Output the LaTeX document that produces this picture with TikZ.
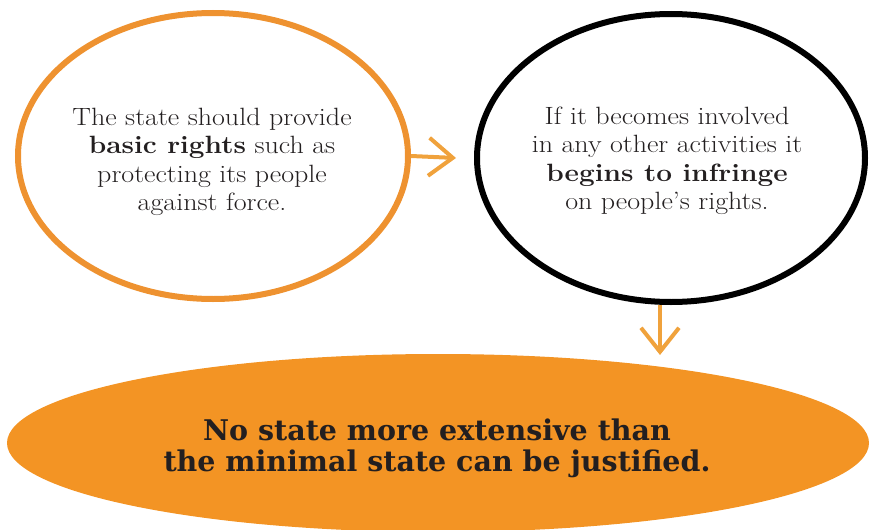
\documentclass[tikz,border=0pt]{standalone}
\usepackage{fontspec}
\setmainfont{Latin Modern Roman}[FakeStretch=1.12]
\usetikzlibrary{shapes.geometric,arrows.meta}
\newfontfamily\heavyslab{DejaVu Serif}
\definecolor{orangeline}{HTML}{EE9230}
\definecolor{orangefill}{HTML}{F39424}
\definecolor{arrowor}{HTML}{F0A23C}
\definecolor{txtgray}{HTML}{231F20}
\tikzset{
  bubble/.style={ellipse, inner sep=0pt, line width=6pt},
  bodytext/.style={align=center, text=txtgray, font=\fontsize{25}{28.5}\selectfont, inner sep=0pt},
  headtext/.style={align=center, text=txtgray, font=\heavyslab\bfseries\fontsize{28.5}{31}\selectfont, inner sep=0pt},
  flow/.style={draw=arrowor, line width=4pt, -{Straight Barb[length=24pt,width=38pt,line width=4pt]}}
}
\begin{document}
\begin{tikzpicture}[x=1pt,y=-1pt]
\useasboundingbox (0,0) rectangle (871,530);
\node[bubble, draw=orangeline, minimum width=390pt, minimum height=286pt] (left) at (213,156) {};
\node[bubble, draw=black, minimum width=388pt, minimum height=288pt] (right) at (671,158) {};
\node[bubble, fill=orangefill, draw=none, minimum width=862pt, minimum height=178pt] (bottom) at (438,443) {};
\node[bodytext] (lefttext) at (212,162) {The state should provide\\\textbf{basic rights} such as\\protecting its people\\against force.};
\node[bodytext] (righttext) at (667,161) {If it becomes involved\\in any other activities it\\\textbf{begins to infringe}\\on people’s rights.};
\node[headtext] (bottomtext) at (437,448) {No state more extensive than\\the minimal state can be justified.};
\draw[flow] (left.east) -- ([xshift=-18pt]right.west);
\draw[flow] ([xshift=-11pt]right.south) -- ([xshift=-11pt,yshift=-4pt]bottom.north -| right.south);
\end{tikzpicture}
\end{document}
